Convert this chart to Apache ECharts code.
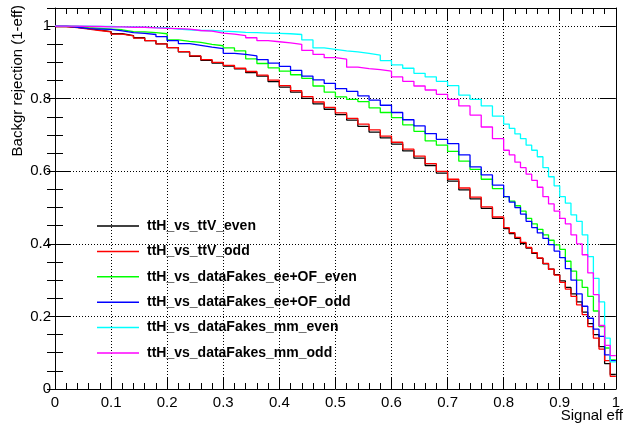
<!DOCTYPE html>
<html>
<head>
<meta charset="utf-8">
<script src="https://cdn.jsdelivr.net/npm/echarts@6/dist/echarts.min.js"></script>
<style>
html,body{margin:0;padding:0;background:#fff;}
#chart{width:623px;height:428px;}
</style>
</head>
<body>
<div id="chart"></div>
<script>
// Signal-efficiency bin left edges
const effBins = [0,0.02,0.04,0.06,0.08,0.10,0.12,0.14,0.16,0.18,0.20,0.22,0.24,0.26,0.28,0.30,0.32,0.34,0.36,0.38,0.40,0.42,0.44,0.46,0.48,0.50,0.52,0.54,0.56,0.58,0.60,0.62,0.64,0.66,0.68,0.70,0.72,0.74,0.76,0.78,0.80,0.81,0.82,0.83,0.84,0.85,0.86,0.87,0.88,0.89,0.90,0.91,0.92,0.93,0.94,0.95,0.96,0.97,0.98,0.99];
const effEnd = 1.0;

const seriesNames = ["ttH_vs_ttV_even","ttH_vs_ttV_odd","ttH_vs_dataFakes_ee+OF_even","ttH_vs_dataFakes_ee+OF_odd","ttH_vs_dataFakes_mm_even","ttH_vs_dataFakes_mm_odd"];

const ttV_even = [0.999,0.997,0.993,0.989,0.985,0.979,0.974,0.968,0.960,0.951,0.941,0.929,0.917,0.906,0.898,0.890,0.882,0.872,0.862,0.847,0.832,0.818,0.801,0.786,0.771,0.756,0.741,0.724,0.708,0.692,0.675,0.656,0.636,0.616,0.595,0.573,0.549,0.524,0.498,0.470,
0.442,0.428,0.415,0.401,0.388,0.374,0.360,0.345,0.330,0.315,0.298,0.280,0.262,0.240,0.212,0.180,0.150,0.117,0.070,0.040];

const ttV_odd = [0.999,0.996,0.992,0.988,0.984,0.978,0.973,0.967,0.960,0.951,0.941,0.930,0.918,0.908,0.900,0.892,0.884,0.875,0.865,0.851,0.836,0.822,0.806,0.791,0.776,0.761,0.746,0.730,0.714,0.697,0.680,0.661,0.642,0.621,0.600,0.578,0.554,0.529,0.502,0.474,
0.445,0.431,0.418,0.404,0.390,0.376,0.361,0.346,0.330,0.314,0.294,0.275,0.255,0.232,0.205,0.172,0.140,0.110,0.078,0.035];

const eeOF_even = [1.000,0.999,0.996,0.994,0.992,0.990,0.985,0.984,0.982,0.979,0.962,0.958,0.955,0.950,0.946,0.940,0.932,0.910,0.897,0.885,0.876,0.866,0.856,0.835,0.818,0.805,0.798,0.792,0.775,0.762,0.748,0.728,0.710,0.684,0.672,0.655,0.628,0.605,0.578,0.552,
0.530,0.518,0.505,0.490,0.470,0.455,0.440,0.425,0.410,0.397,0.385,0.352,0.325,0.300,0.280,0.255,0.215,0.172,0.113,0.080];

const eeOF_odd = [1.000,0.997,0.993,0.992,0.991,0.987,0.982,0.980,0.977,0.971,0.960,0.952,0.947,0.942,0.938,0.925,0.922,0.918,0.908,0.898,0.889,0.878,0.862,0.852,0.842,0.828,0.820,0.808,0.796,0.782,0.762,0.742,0.725,0.704,0.688,0.676,0.645,0.612,0.590,0.562,
0.530,0.515,0.500,0.482,0.462,0.445,0.430,0.415,0.398,0.380,0.362,0.332,0.300,0.262,0.228,0.195,0.165,0.145,0.094,0.078];

const mm_even = [1.000,1.000,1.000,0.999,0.999,0.998,0.998,0.997,0.996,0.995,0.992,0.990,0.988,0.988,0.986,0.985,0.983,0.982,0.981,0.980,0.979,0.977,0.962,0.940,0.936,0.932,0.929,0.925,0.920,0.905,0.893,0.884,0.870,0.860,0.848,0.836,0.810,0.798,0.780,0.752,
0.730,0.718,0.703,0.690,0.672,0.658,0.640,0.610,0.585,0.560,0.530,0.512,0.480,0.462,0.425,0.365,0.305,0.240,0.140,0.075];

const mm_odd = [1.000,1.000,0.999,0.999,0.998,0.998,0.997,0.997,0.995,0.994,0.993,0.992,0.988,0.986,0.981,0.978,0.974,0.968,0.960,0.957,0.954,0.950,0.933,0.922,0.913,0.909,0.887,0.883,0.880,0.876,0.860,0.848,0.835,0.824,0.812,0.798,0.780,0.755,0.722,0.690,
0.658,0.645,0.625,0.610,0.592,0.575,0.556,0.530,0.510,0.490,0.470,0.455,0.425,0.400,0.370,0.320,0.260,0.175,0.120,0.092];

const seriesValues = [ttV_even, ttV_odd, eeOF_even, eeOF_odd, mm_even, mm_odd];
const seriesColors = ['#000000','#ff0000','#00ff00','#0000ff','#00ffff','#ff00ff'];

const xTickLabels = ['0','0.1','0.2','0.3','0.4','0.5','0.6','0.7','0.8','0.9','1'];

const FONT = 'Liberation Sans, Arial, Helvetica, sans-serif';

function toSteps(vals){
  const d = effBins.map((x,i)=>[x, vals[i]]);
  d.push([effEnd, vals[vals.length-1]]);
  return d;
}

const chart = echarts.init(document.getElementById('chart'), null, {renderer:'canvas'});

const splitStyle = {show:true, lineStyle:{color:'#000', width:1, type:[1,2]}};
// thin horizontal bar centred in a 42x14 box (degenerate corner points fix the bounds)
const legendLineIcon = 'path://M0,0L0,0M0,6.25L42,6.25L42,7.75L0,7.75ZM42,14L42,14';

const option = {
  backgroundColor:'#fff',
  animation:false,
  grid:{left:55, right:0, top:8, bottom:39, containLabel:false},
  xAxis:[
    {type:'value', min:0, max:1, interval:0.1, position:'bottom',
     axisLine:{show:true, onZero:false, lineStyle:{color:'#000', width:1}},
     axisTick:{show:true, inside:true, length:12, lineStyle:{color:'#000'}},
     minorTick:{show:true, splitNumber:5, length:6, lineStyle:{color:'#000'}},
     axisLabel:{show:true, color:'#000', fontSize:15, fontFamily:FONT, margin:6,
       formatter:function(v){ const i=Math.round(v*10); return xTickLabels[i]; }},
     splitLine:splitStyle},
    {type:'value', min:0, max:1, interval:0.1, position:'top',
     axisLine:{show:true, onZero:false, lineStyle:{color:'#000', width:1}},
     axisTick:{show:true, inside:true, length:12, lineStyle:{color:'#000'}},
     minorTick:{show:true, splitNumber:5, length:6, lineStyle:{color:'#000'}},
     axisLabel:{show:false}, splitLine:{show:false}}
  ],
  yAxis:[
    {type:'value', min:0, max:1.05, interval:0.2, position:'left',
     axisLine:{show:true, onZero:false, lineStyle:{color:'#000', width:1}},
     axisTick:{show:true, inside:true, length:16, lineStyle:{color:'#000'}},
     axisLabel:{show:true, color:'#000', fontSize:15, fontFamily:FONT, margin:4, showMaxLabel:false,
       formatter:function(v){ return (Math.abs(v*5-Math.round(v*5))<1e-6) ? String(+v.toFixed(1)) : ''; }},
     splitLine:splitStyle},
    {type:'value', min:0, max:1.05, interval:0.05, position:'left',
     axisLine:{show:false},
     axisTick:{show:true, inside:true, length:8, lineStyle:{color:'#000'}},
     axisLabel:{show:false}, splitLine:{show:false}},
    {type:'value', min:0, max:1.05, interval:0.2, position:'right',
     axisLine:{show:true, onZero:false, lineStyle:{color:'#000', width:1}},
     axisTick:{show:true, inside:true, length:16, lineStyle:{color:'#000'}},
     axisLabel:{show:false}, splitLine:{show:false}},
    {type:'value', min:0, max:1.05, interval:0.05, position:'right',
     axisLine:{show:false},
     axisTick:{show:true, inside:true, length:8, lineStyle:{color:'#000'}},
     axisLabel:{show:false}, splitLine:{show:false}}
  ],
  legend:{
    show:true, orient:'vertical', left:97, top:219, padding:0,
    icon:legendLineIcon,
    itemWidth:42, itemHeight:14, itemGap:11.4,
    selectedMode:false,
    textStyle:{color:'#000', fontSize:14, fontWeight:'bold', fontFamily:FONT, lineHeight:14, padding:[0,0,0,3]},
    data:seriesNames.map(n=>({name:n}))
  },
  series: seriesNames.map((n,i)=>({
    name:n, type:'line', step:'end', symbol:'none', showSymbol:false,
    xAxisIndex:0, yAxisIndex:0,
    color:seriesColors[i],
    lineStyle:{color:seriesColors[i], width:1.3},
    itemStyle:{color:seriesColors[i]},
    data:toSteps(seriesValues[i]),
    z:2+i
  })),
  graphic:[
    {type:'text', x:18, y:5, rotation:Math.PI/2,
     style:{text:'Backgr rejection (1-eff)', fill:'#000', font:'15px '+FONT, align:'right', verticalAlign:'middle'}},
    {type:'text', x:623, y:416,
     style:{text:'Signal eff', fill:'#000', font:'15px '+FONT, align:'right', verticalAlign:'middle'}}
  ]
};
chart.setOption(option);
</script>
</body>
</html>
